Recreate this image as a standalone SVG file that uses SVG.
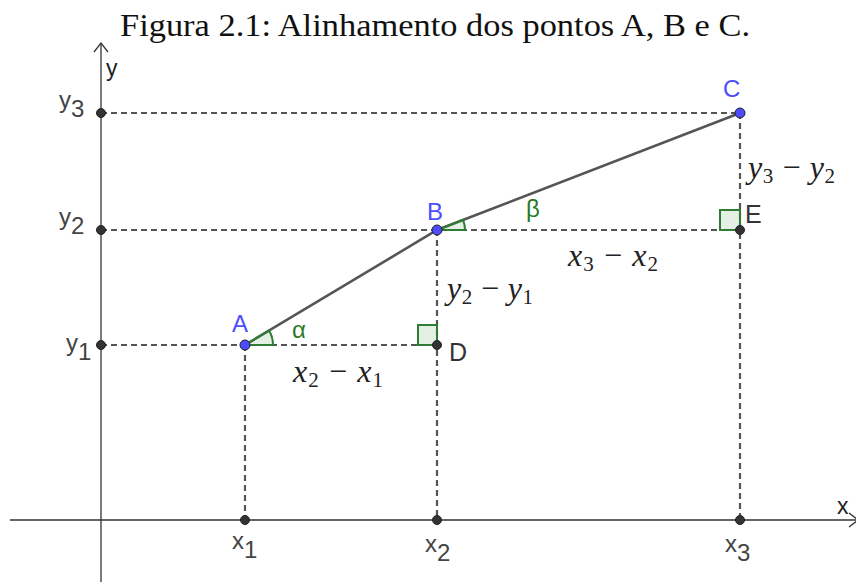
<svg xmlns="http://www.w3.org/2000/svg" width="856" height="582" viewBox="0 0 856 582">
<style>
.axis{stroke:#333;stroke-width:1.3;fill:none}
.dash{stroke:#555;stroke-width:2.2;stroke-dasharray:6,4;fill:none}
.seg{stroke:#555;stroke-width:2.6;fill:none}
.ang{fill:#4a9a4a;fill-opacity:0.15;stroke:#2e7d32;stroke-width:2}
.bp{fill:#4d4dff;stroke:#222;stroke-width:1}
.kp{fill:#333;stroke:#222;stroke-width:1}
.sans{font-family:"Liberation Sans",Arial,sans-serif}
.tick{font-family:"Liberation Sans",Arial,sans-serif;font-size:24px;fill:#444}
.blue{fill:#4d4dff;font-size:24px}
.green{fill:#2a7a2a;font-size:24px}
.math{font-family:"Liberation Serif","Times New Roman",serif;font-size:32px;fill:#222}
.title{font-family:"Liberation Serif","Times New Roman",serif;font-size:32px;fill:#111}
</style>
<rect width="856" height="582" fill="#fff"/>
<text class="title" x="120" y="36" textLength="630" lengthAdjust="spacingAndGlyphs">Figura 2.1: Alinhamento dos pontos A, B e C.</text>
<g id="axes">
<line class="axis" x1="101" y1="43" x2="101" y2="582"/>
<polyline class="axis" points="94,52 101,43 108,52"/>
<line class="axis" x1="10" y1="520" x2="856" y2="520"/>
<polyline class="axis" points="849,513 858,520 849,527"/>
<text class="sans" x="106" y="76" font-size="23" fill="#222">y</text>
<text class="sans" x="837" y="514" font-size="23" fill="#222">x</text>
</g>
<g id="connectors">
<line class="dash" x1="101" y1="113" x2="740" y2="113"/>
<line class="dash" x1="101" y1="230" x2="740" y2="230"/>
<line class="dash" x1="101" y1="345" x2="437" y2="345"/>
<line class="dash" x1="245" y1="345" x2="245" y2="520"/>
<line class="dash" x1="437" y1="230" x2="437" y2="520"/>
<line class="dash" x1="740" y1="113" x2="740" y2="520"/>
<polyline class="seg" points="245,345 437,230 740,113"/>
</g>
<g id="angles">
<path class="ang" d="M245,345 L273,345 A28,28 0 0 0 269,330.6 Z"/>
<path class="ang" d="M437,230 L465,230 A28,28 0 0 0 463.1,219.9 Z"/>
<rect class="ang" x="418" y="325" width="19" height="20"/>
<rect class="ang" x="720" y="210" width="20" height="20"/>
</g>
<g id="ticks">
<circle class="kp" cx="101" cy="113" r="4.5"/>
<circle class="kp" cx="101" cy="230" r="4.5"/>
<circle class="kp" cx="101" cy="345" r="4.5"/>
<circle class="kp" cx="245" cy="520" r="4.5"/>
<circle class="kp" cx="437" cy="520" r="4.5"/>
<circle class="kp" cx="740" cy="520" r="4.5"/>
<text class="tick" x="59" y="108">y<tspan dy="9">3</tspan></text>
<text class="tick" x="59" y="225">y<tspan dy="9">2</tspan></text>
<text class="tick" x="66" y="351">y<tspan dy="9">1</tspan></text>
<text class="tick" x="232" y="549">x<tspan dy="9">1</tspan></text>
<text class="tick" x="425" y="552">x<tspan dy="9">2</tspan></text>
<text class="tick" x="725" y="552">x<tspan dy="9">3</tspan></text>
</g>
<g id="A">
<circle class="bp" cx="245" cy="345" r="5"/>
<text class="sans blue" x="232" y="332">A</text>
</g>
<g id="B">
<circle class="bp" cx="437" cy="230" r="5"/>
<text class="sans blue" x="427" y="220">B</text>
</g>
<g id="C">
<circle class="bp" cx="740" cy="113" r="5"/>
<text class="sans blue" x="723" y="97">C</text>
</g>
<g id="D">
<circle class="kp" cx="437" cy="345" r="4.5"/>
<text class="sans" x="449" y="361" font-size="25" fill="#333">D</text>
</g>
<g id="E">
<circle class="kp" cx="740" cy="230" r="4.5"/>
<text class="sans" x="745" y="223" font-size="25" fill="#333">E</text>
</g>
<g id="labels">
<text class="sans green" x="292" y="338">α</text>
<text class="sans green" x="526" y="217">β</text>
<text class="math" x="293" y="382" textLength="90"><tspan font-style="italic">x</tspan><tspan font-size="21" dy="5">2</tspan><tspan dy="-5"> − </tspan><tspan font-style="italic">x</tspan><tspan font-size="21" dy="5">1</tspan></text>
<text class="math" x="447" y="299" textLength="86"><tspan font-style="italic">y</tspan><tspan font-size="21" dy="5">2</tspan><tspan dy="-5"> − </tspan><tspan font-style="italic">y</tspan><tspan font-size="21" dy="5">1</tspan></text>
<text class="math" x="568" y="266" textLength="90"><tspan font-style="italic">x</tspan><tspan font-size="21" dy="5">3</tspan><tspan dy="-5"> − </tspan><tspan font-style="italic">x</tspan><tspan font-size="21" dy="5">2</tspan></text>
<text class="math" x="748" y="178" textLength="87"><tspan font-style="italic">y</tspan><tspan font-size="21" dy="5">3</tspan><tspan dy="-5"> − </tspan><tspan font-style="italic">y</tspan><tspan font-size="21" dy="5">2</tspan></text>
</g>
</svg>
